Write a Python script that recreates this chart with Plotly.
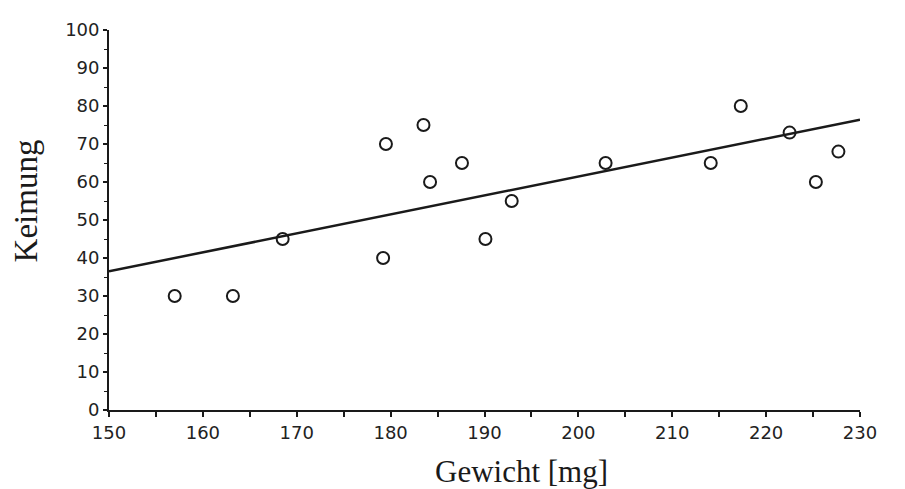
import plotly.graph_objects as go

# Data
gewicht = [157.0, 163.2, 168.5, 179.2, 179.5, 183.5, 184.2, 187.6,
           190.1, 192.9, 202.9, 214.1, 217.3, 222.5, 225.3, 227.7]
keimung = [30, 30, 45, 40, 70, 75, 60, 65,
           45, 55, 65, 65, 80, 73, 60, 68]

# Regression line end points
fit_x = [150, 230]
fit_y = [36.5, 76.4]

x_ticks = [150, 160, 170, 180, 190, 200, 210, 220, 230]
y_ticks = [0, 10, 20, 30, 40, 50, 60, 70, 80, 90, 100]

x_title = "Gewicht [mg]"
y_title = "Keimung"

ink = "#1a1a1a"

fig = go.Figure()
fig.add_trace(go.Scatter(
    x=fit_x, y=fit_y, mode="lines",
    line=dict(color=ink, width=2.5),
    showlegend=False, hoverinfo="skip",
))
fig.add_trace(go.Scatter(
    x=gewicht, y=keimung, mode="markers",
    marker=dict(symbol="circle-open", size=12, color=ink,
                line=dict(color=ink, width=2)),
    showlegend=False, cliponaxis=False,
))

tick_font = dict(family="DejaVu Sans", size=18, color="#222222")

fig.update_layout(
    width=905, height=489,
    margin=dict(l=101, r=53, t=22, b=87),
    paper_bgcolor="white", plot_bgcolor="white",
    xaxis=dict(
        range=[150, 230], tickvals=x_ticks, ticktext=[str(v) for v in x_ticks],
        showgrid=False, zeroline=False,
        showline=True, linecolor=ink, linewidth=1.8,
        ticks="outside", ticklen=5, tickwidth=1.5, tickcolor=ink,
        minor=dict(dtick=5, tick0=150, ticks="outside", ticklen=5,
                   tickwidth=1.5, tickcolor=ink, showgrid=False),
        tickfont=tick_font,
    ),
    yaxis=dict(
        range=[0, 100], tickvals=y_ticks, ticktext=[str(v) for v in y_ticks],
        showgrid=False, zeroline=False,
        showline=True, linecolor=ink, linewidth=1.8,
        ticks="outside", ticklen=4, tickwidth=1.5, tickcolor=ink,
        minor=dict(dtick=5, tick0=0, ticks="outside", ticklen=3,
                   tickwidth=1.2, tickcolor=ink, showgrid=False),
        tickfont=tick_font,
    ),
    annotations=[
        dict(text=x_title, xref="paper", yref="paper", x=0.549, y=-0.213,
             xanchor="center", yanchor="bottom", showarrow=False,
             font=dict(family="Liberation Serif", size=31, color=ink)),
        dict(text=y_title, xref="paper", yref="paper", x=-0.11, y=0.55,
             xanchor="center", yanchor="middle", showarrow=False, textangle=-90,
             font=dict(family="Liberation Serif", size=33, color=ink)),
    ],
)

fig.write_html("out.html")
